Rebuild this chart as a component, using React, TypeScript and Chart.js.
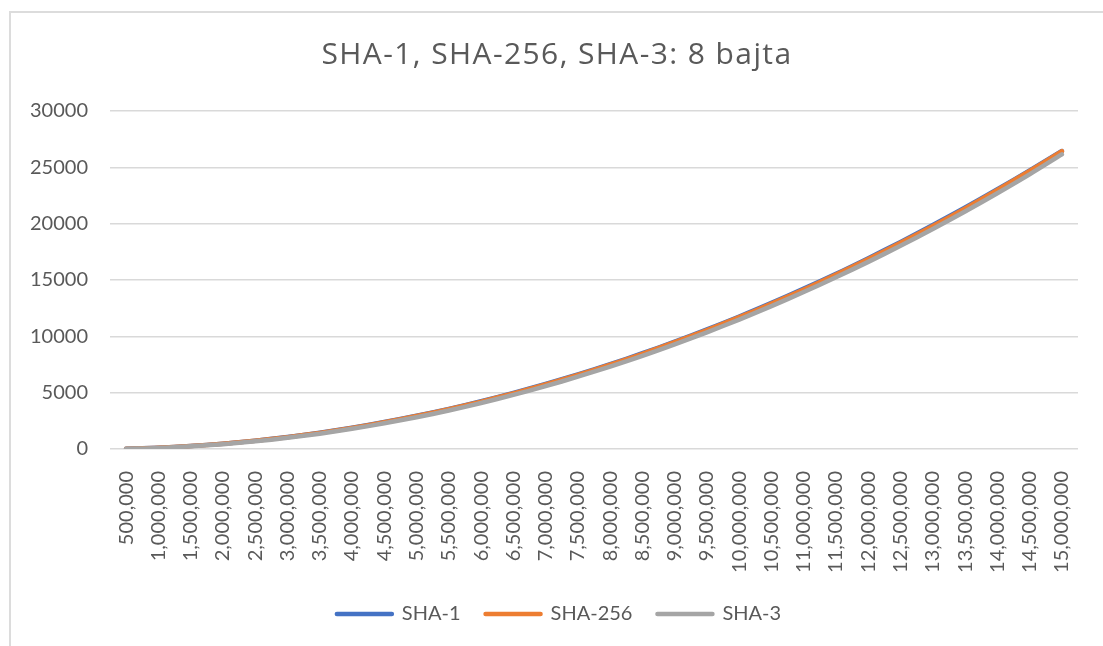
import React, { useEffect, useRef } from "react";
import { Chart, registerables } from "chart.js";

Chart.register(...registerables);

const chartTitle = "SHA-1, SHA-256, SHA-3: 8 bajta";

const categories = [
  "500,000", "1,000,000", "1,500,000", "2,000,000", "2,500,000", "3,000,000",
  "3,500,000", "4,000,000", "4,500,000", "5,000,000", "5,500,000", "6,000,000",
  "6,500,000", "7,000,000", "7,500,000", "8,000,000", "8,500,000", "9,000,000",
  "9,500,000", "10,000,000", "10,500,000", "11,000,000", "11,500,000", "12,000,000",
  "12,500,000", "13,000,000", "13,500,000", "14,000,000", "14,500,000", "15,000,000",
];

const sha1Values = [
  30, 120, 270, 475, 740, 1060, 1445, 1890, 2390, 2950, 3565, 4240, 4975, 5770, 6620,
  7530, 8500, 9530, 10620, 11760, 12970, 14230, 15550, 16940, 18380, 19880, 21430, 23050, 24720, 26450,
];

const sha256Values = [
  28, 115, 265, 470, 730, 1050, 1430, 1870, 2370, 2925, 3540, 4210, 4940, 5730, 6580,
  7490, 8450, 9480, 10560, 11700, 12900, 14160, 15480, 16860, 18300, 19800, 21360, 22990, 24680, 26430,
];

const sha3Values = [
  20, 95, 235, 430, 680, 990, 1360, 1790, 2280, 2820, 3420, 4080, 4800, 5580, 6420,
  7320, 8270, 9290, 10360, 11490, 12680, 13930, 15240, 16610, 18040, 19530, 21080, 22700, 24380, 26150,
];

const yMin = 0;
const yMax = 30000;
const yStep = 5000;

const textColor = "#595959";
const fontFamily = "Lato";

// Shift title and legend so they are centred on the whole chart frame, as in Excel,
// and widen the title's letter spacing a little.
const boxShiftPlugin = {
  id: "boxShift",
  afterLayout(chart: any) {
    const patch = (box: any, dx: number, spacing: string | null) => {
      if (!box || box.__patched) return;
      const orig = box.draw.bind(box);
      box.draw = (...args: any[]) => {
        const ctx = chart.ctx;
        ctx.save();
        ctx.translate(dx, 0);
        if (spacing) (ctx as any).letterSpacing = spacing;
        orig(...args);
        ctx.restore();
      };
      box.__patched = true;
    };
    patch(chart.titleBlock, 18, "1.4px");
    patch(chart.legend, 20, null);
  },
};

export default function App() {
  const ref = useRef<HTMLCanvasElement>(null);

  useEffect(() => {
    if (!ref.current) return;
    const mk = (label: string, data: number[], color: string, order: number) => ({
      label,
      data,
      borderColor: color,
      backgroundColor: color,
      borderWidth: 4.5,
      borderCapStyle: "round" as const,
      borderJoinStyle: "round" as const,
      pointRadius: 0,
      tension: 0.3,
      order,
    });
    const chart = new Chart(ref.current, {
      type: "line",
      data: {
        labels: categories,
        datasets: [
          mk("SHA-1", sha1Values, "#4472C4", 2),
          mk("SHA-256", sha256Values, "#ED7D31", 1),
          mk("SHA-3", sha3Values, "#A5A5A5", 0),
        ],
      },
      plugins: [boxShiftPlugin],
      options: {
        responsive: false,
        animation: false,
        devicePixelRatio: 1,
        layout: { padding: { left: 0, right: 25, top: 0, bottom: 66 } },
        plugins: {
          title: {
            display: true,
            text: chartTitle,
            color: textColor,
            font: { family: "Open Sans", size: 30, weight: "normal" },
            padding: { top: 37, bottom: 38 },
          },
          legend: {
            position: "bottom",
            labels: {
              color: textColor,
              font: { family: fontFamily, size: 20 },
              boxWidth: 55,
              boxHeight: 0,
              padding: 25,
              sort: (a: any, b: any) => a.datasetIndex - b.datasetIndex,
            },
          },
          tooltip: { enabled: false },
        },
        scales: {
          x: {
            offset: true,
            grid: { display: false },
            border: { display: false },
            ticks: {
              autoSkip: false,
              minRotation: 90,
              maxRotation: 90,
              padding: 14,
              color: textColor,
              font: { family: fontFamily, size: 20 },
            },
            afterFit: (s: any) => {
              s.height = 130;
            },
          },
          y: {
            min: yMin,
            max: yMax,
            ticks: {
              stepSize: yStep,
              padding: 22,
              color: textColor,
              font: { family: fontFamily, size: 20 },
              callback: (v: any) => String(v),
            },
            grid: { color: "#d9d9d9", lineWidth: 1.5, drawTicks: false },
            border: { display: false },
            afterFit: (s: any) => {
              s.width = 110;
            },
          },
        },
      },
    });
    return () => chart.destroy();
  }, []);

  return (
    <div style={{ position: "fixed", inset: 0, overflow: "hidden", background: "#fff" }}>
      <div
        style={{
          position: "absolute",
          left: 9,
          top: 11,
          width: 1200,
          height: 800,
          border: "2px solid #dcdcdc",
        }}
      />
      <canvas
        ref={ref}
        width={1103}
        height={700}
        style={{ position: "absolute", left: 0, top: 0, width: 1103, height: 700 }}
      />
    </div>
  );
}
